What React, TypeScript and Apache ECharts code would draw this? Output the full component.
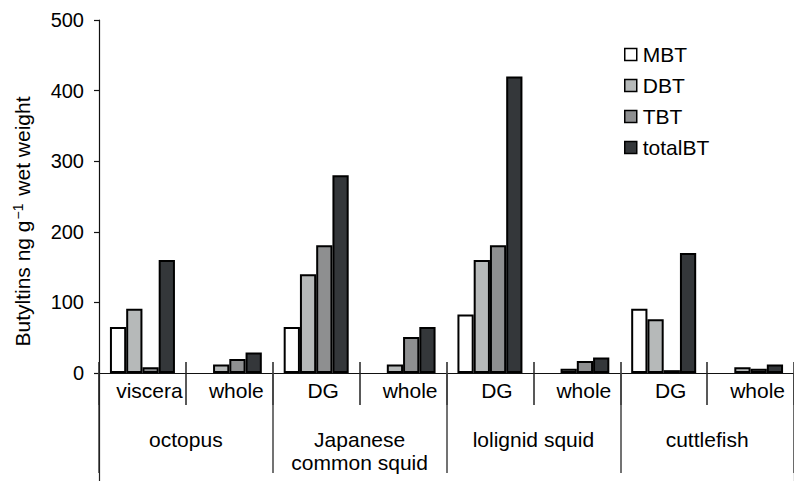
import React, { useEffect, useRef } from "react";
import * as echarts from "echarts";

const subCategories = ["viscera", "whole", "DG", "whole", "DG", "whole", "DG", "whole"];
const groups = ["octopus", "Japanese\ncommon squid", "lolignid squid", "cuttlefish"];
const seriesNames = ["MBT", "DBT", "TBT", "totalBT"];
const mbt = [65, 0, 65, 0, 83, 0, 91, 0];
const dbt = [91, 12, 140, 12, 160, 6, 76, 8];
const tbt = [8, 20, 181, 51, 181, 17, 4, 6];
const totalBT = [160, 29, 280, 65, 420, 22, 170, 12];
const yTicks = { min: 0, max: 500, interval: 100 };

const colors = ["#ffffff", "#b6b9b9", "#8e8f90", "#34373a"];
const FONT = "'Liberation Sans', Arial, Helvetica, sans-serif";

export default function App() {
  const ref = useRef<HTMLDivElement>(null);
  useEffect(() => {
    document.body.style.margin = "0";
    const chart = echarts.init(ref.current!, undefined, { renderer: "svg" });
    const values = [mbt, dbt, tbt, totalBT];
    const grid = { left: 99, top: 20, width: 700, height: 353 };
    chart.setOption({
      animation: false,
      textStyle: { fontFamily: FONT },
      grid,
      legend: {
        orient: "vertical",
        left: 619,
        top: 39,
        itemWidth: 12,
        itemHeight: 12,
        itemGap: 10,
        icon: "rect",
        itemStyle: { borderColor: "#000", borderWidth: 1.5 },
        textStyle: { fontFamily: FONT, fontSize: 21, color: "#000", lineHeight: 21, padding: [0, 0, 0, 1] },
        data: seriesNames,
      },
      xAxis: [
        {
          type: "category",
          data: subCategories,
          position: "bottom",
          axisLine: { show: true, lineStyle: { color: "#111", width: 1.2 } },
          axisTick: { show: true, length: 32, lineStyle: { color: "#222", width: 1.5 } },
          axisLabel: {
            color: "#000",
            fontFamily: FONT,
            fontSize: 21,
            margin: 7,
            padding: [0, 0, 0, 14],
            interval: 0,
          },
        },
        {
          type: "category",
          data: subCategories,
          position: "bottom",
          axisLine: { show: false },
          axisTick: { show: true, inside: true, length: 11, lineStyle: { color: "#222", width: 1.5 } },
          axisLabel: { show: false },
        },
        {
          type: "category",
          data: groups,
          position: "bottom",
          axisLine: { show: false },
          axisTick: { show: true, length: 100, lineStyle: { color: "#444", width: 1.5 } },
          axisLabel: {
            color: "#000",
            fontFamily: FONT,
            fontSize: 21,
            lineHeight: 23,
            margin: 55,
            interval: 0,
          },
        },
        {
          type: "category",
          data: [""],
          position: "bottom",
          axisLine: { show: false },
          axisTick: { show: true, length: 110, lineStyle: { color: "#222", width: 1.2 } },
          axisLabel: { show: false },
        },
      ],
      yAxis: {
        type: "value",
        min: yTicks.min,
        max: yTicks.max,
        interval: yTicks.interval,
        name: "{a|Butyltins ng g}{s|−1}{a| wet weight}",
        nameLocation: "middle",
        nameGap: 65,
        nameRotate: 90,
        nameTextStyle: {
          padding: [0, 50, 0, 0],
          rich: {
            a: { fontFamily: FONT, fontSize: 21, color: "#000", lineHeight: 24 },
            s: { fontFamily: FONT, fontSize: 14, color: "#000", lineHeight: 24, padding: [0, 2, 9, 1] },
          },
        },
        axisLine: { show: true, lineStyle: { color: "#111", width: 1.2 } },
        axisTick: { show: true, length: 5, lineStyle: { color: "#111", width: 1.2 } },
        axisLabel: { color: "#000", fontFamily: FONT, fontSize: 20, margin: 15 },
        splitLine: { show: false },
      },
      series: seriesNames.map((name, i) => ({
        name,
        type: "bar",
        xAxisIndex: 0,
        data: values[i].map((v) => (v === 0 ? null : v)),
        barWidth: 16.25,
        barGap: "0%",
        itemStyle: { color: colors[i], borderColor: "#000", borderWidth: 2 },
      })),
    });
    return () => chart.dispose();
  }, []);
  return <div ref={ref} style={{ width: 794, height: 481 }} />;
}
